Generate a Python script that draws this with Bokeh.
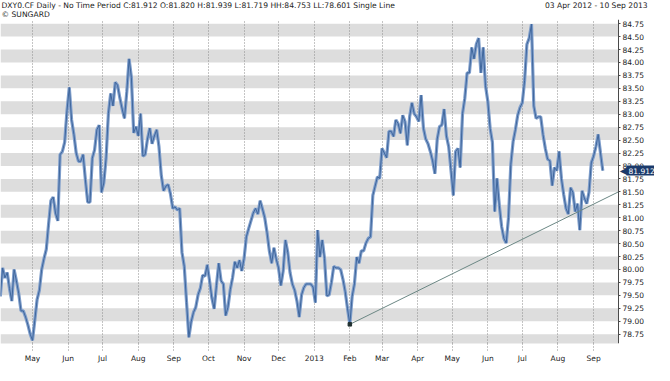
import pandas as pd
from bokeh.plotting import figure
from bokeh.layouts import column
from bokeh.models import Range1d, FixedTicker, BoxAnnotation, Label, PrintfTickFormatter
from bokeh.embed import file_html
from bokeh.resources import INLINE

# ---------------- data ----------------
start_date = "2012-04-03"
step_days = 2
closes = [
    # Apr 2012 - mid Aug 2012
    79.48, 80.03, 79.84, 79.94, 79.63, 79.39, 80.00, 79.78, 79.54, 79.20,
    79.20, 79.08, 78.93, 78.75, 78.63, 79.02, 79.42, 79.60, 80.00, 80.21,
    80.39, 80.88, 81.33, 81.40, 81.09, 80.94, 82.22, 82.28, 82.46, 83.07,
    83.52, 82.89, 82.61, 82.25, 82.09, 82.09, 82.22, 81.73, 81.30, 81.30,
    82.15, 82.31, 82.70, 82.79, 81.49, 81.67, 82.15, 83.01, 83.40, 83.16,
    83.62, 83.56, 83.31, 83.10, 82.92, 83.43, 84.07, 83.71, 82.64, 82.76,
    82.58, 83.01, 82.19, 82.22, 82.52, 82.73, 82.43, 82.58,
    # mid Aug 2012 - Dec 2012
    82.70, 82.37, 81.82, 81.52, 81.61, 81.64, 81.46, 81.18, 81.21, 81.15,
    81.18, 80.33, 80.06, 79.36, 78.69, 78.99, 79.17, 79.27, 79.51, 79.64,
    79.89, 79.87, 80.09, 79.78, 79.45, 79.24, 79.69, 80.12, 79.78, 79.72,
    79.11, 79.27, 79.61, 79.84, 80.15, 80.03, 80.18, 79.97, 80.21, 80.63,
    80.79, 80.94, 81.09, 81.18, 81.07, 81.33, 81.17, 81.00, 80.71, 80.36,
    80.12, 80.42, 80.20, 80.03, 79.69, 79.97, 80.57, 80.33, 79.94, 79.72,
    79.60, 79.39, 79.08, 79.51, 79.65, 79.72, 79.72, 79.72,
    # Jan 2013 - mid May 2013
    79.66, 79.36, 80.76, 80.24, 80.57, 80.21, 79.49, 79.51, 79.75, 80.06,
    80.03, 80.03, 80.00, 79.81, 79.57, 79.24, 78.94, 79.48, 79.72, 80.24,
    80.12, 80.36, 80.36, 80.51, 80.60, 80.63, 81.43, 81.61, 81.79, 81.76,
    82.34, 82.25, 82.16, 82.67, 82.67, 82.57, 82.89, 82.82, 82.63, 82.98,
    82.86, 82.40, 82.95, 83.22, 83.01, 82.95, 82.86, 83.37, 82.73, 82.52,
    82.43, 82.28, 82.10, 81.85, 82.52, 82.76, 82.79, 83.10, 82.58, 82.37,
    81.91, 81.43, 82.28, 82.34, 81.97, 83.01, 83.31,
    # mid May 2013 - Sep 2013
    83.80, 83.80, 84.29, 84.07, 84.35, 84.47, 83.80, 84.29, 83.55, 83.25,
    82.73, 82.46, 81.12, 81.76, 81.24, 80.83, 80.60, 80.51, 81.00, 82.03,
    82.47, 82.70, 82.98, 83.13, 83.22, 83.65, 84.35, 84.47, 84.74, 83.16,
    82.92, 82.95, 82.95, 82.61, 82.34, 82.13, 82.10, 81.62, 81.97, 81.91,
    82.28, 81.76, 81.45, 81.18, 81.07, 81.58, 81.49, 81.12, 81.27, 80.76,
    81.52, 81.38, 81.27, 81.49, 82.06, 82.19, 82.37, 82.61, 82.25, 81.91,
]

trend_dates = ["2013-02-01 00:00", "2013-09-22 16:00"]
trend_values = [78.94, 81.50]

month_ticks = ["2012-05-01", "2012-06-01", "2012-07-01", "2012-08-01", "2012-09-01",
               "2012-10-01", "2012-11-01", "2012-12-01", "2013-01-01", "2013-02-01",
               "2013-03-01", "2013-04-01", "2013-05-01", "2013-06-01", "2013-07-01",
               "2013-08-01", "2013-09-01"]
month_labels = ["May", "Jun", "Jul", "Aug", "Sep", "Oct", "Nov", "Dec", "2013", "Feb",
                "Mar", "Apr", "May", "Jun", "Jul", "Aug", "Sep"]

price_ticks = [78.75, 79.00, 79.25, 79.50, 79.75, 80.00, 80.25, 80.50, 80.75, 81.00,
               81.25, 81.50, 81.75, 82.00, 82.25, 82.50, 82.75, 83.00, 83.25, 83.50,
               83.75, 84.00, 84.25, 84.50, 84.75]

last_close = 81.912
open_p, high_p, low_p = 81.820, 81.939, 81.719
hh, ll = 84.753, 78.601
period_text = "03 Apr 2012  -  10 Sep 2013"

x_start, x_axis_at = "2012-04-03 04:00", "2013-09-22 16:00"
y_start, y_end = 78.57, 84.83

# ---------------- layout constants ----------------
FONT = "DejaVu Sans"
W = 654
AXIS_PX = 618          # where the price axis sits, from the left of the frame
HEADER_H = 19
MAIN_H = 346

t0 = pd.Timestamp(x_start)
t_axis = pd.Timestamp(x_axis_at)
t_end = t0 + (t_axis - t0) * (W / AXIS_PX)
axis_ms = t_axis.value / 10**6

dates = pd.date_range(start_date, periods=len(closes), freq=f"{step_days}D")
month_dt = pd.to_datetime(month_ticks, format="%Y-%m-%d")
month_ms = [int(t.value // 10**6) for t in month_dt]

# ---------------- header ----------------
h = figure(width=W, height=HEADER_H, x_range=Range1d(0, W), y_range=Range1d(0, HEADER_H),
           x_axis_location=None, y_axis_location=None, output_backend="svg",
           toolbar_location=None, min_border=0)
h.outline_line_color = None
h.grid.visible = False
header = (f"DXY0.CF Daily -  No Time Period  C:{last_close:.3f} O:{open_p:.3f} "
          f"H:{high_p:.3f} L:{low_p:.3f} HH:{hh:.3f} LL:{ll:.3f} Single Line")
hstyle = dict(text_font=FONT, text_font_size="7.6px", text_baseline="middle",
              text_color="#222222")
h.add_layout(Label(x=1, y=14.5, text=header, **hstyle))
h.add_layout(Label(x=1, y=5.5, text="\u00A9 SUNGARD", **hstyle))
h.add_layout(Label(x=W - 2, y=14.5, text=period_text, text_align="right", **hstyle))

# ---------------- main chart ----------------
p = figure(width=W, height=MAIN_H, x_axis_type="datetime", y_axis_location="right",
           output_backend="svg", toolbar_location=None,
           x_range=Range1d(t0, t_end), y_range=Range1d(y_start, y_end),
           min_border_left=0, min_border_right=0, min_border_top=0, min_border_bottom=17)
p.outline_line_color = None
p.background_fill_color = "white"
p.border_fill_color = "white"

# alternating grey bands, stopping at the price axis
for t in price_ticks[::2]:
    p.add_layout(BoxAnnotation(bottom=t - 0.25, top=t, right=axis_ms, fill_color="#dddddd",
                               fill_alpha=1.0, line_alpha=0, level="image"))

p.ygrid.grid_line_color = None
p.xgrid.ticker = FixedTicker(ticks=month_ms)
p.xgrid.grid_line_color = "#8a8a8a"
p.xgrid.grid_line_dash = "1 2"
p.xgrid.grid_line_width = 1

# x axis
xa = p.xaxis[0]
xa.ticker = FixedTicker(ticks=month_ms)
xa.major_label_overrides = {ms: lab for ms, lab in zip(month_ms, month_labels)}
xa.axis_line_color = None
xa.major_tick_line_color = "#8a8a8a"
xa.major_tick_line_dash = "1 2"
xa.major_tick_out = 7
xa.major_tick_in = 0
xa.minor_tick_out = 0
xa.minor_tick_in = 0
xa.major_label_standoff = 3
xa.major_label_text_font = FONT
xa.major_label_text_font_size = "7.5px"
xa.major_label_text_color = "#222222"

# y axis (right, pinned inside the canvas)
ya = p.yaxis[0]
ya.fixed_location = axis_ms
ya.ticker = FixedTicker(ticks=price_ticks)
ya.formatter = PrintfTickFormatter(format="%.2f")
ya.axis_line_color = "#4a4a4a"
ya.major_tick_line_color = "#4a4a4a"
ya.major_tick_out = 2
ya.major_tick_in = 0
ya.minor_tick_out = 0
ya.minor_tick_in = 0
ya.major_label_standoff = 2
ya.major_label_text_font = FONT
ya.major_label_text_font_size = "7.5px"
ya.major_label_text_color = "#222222"

# series
p.line(dates, closes, line_width=3.2, line_color="#7f9ecb")
p.line(dates, closes, line_width=1, line_color="#3f669c")

# trend line
td = pd.to_datetime(trend_dates, format="%Y-%m-%d %H:%M")
p.line(td, trend_values, line_width=1, line_color="#6b8784")
p.scatter(td[:1], trend_values[:1], marker="square", size=3.5, color="#203030")

# price tag
p.add_layout(Label(x=axis_ms, y=last_close, x_offset=8, text=f"{last_close:.3f}",
                   text_color="white", text_font=FONT, text_font_size="7.5px",
                   text_baseline="middle", background_fill_color="#1b3a6b", padding=2))
p.add_layout(Label(x=axis_ms, y=last_close, x_offset=9, text="\u25C0",
                   text_align="right", text_color="#1b3a6b", text_font=FONT,
                   text_font_size="10px", text_baseline="middle"))

layout = column(h, p, spacing=0)
open("out.html", "w").write(file_html(layout, INLINE))
